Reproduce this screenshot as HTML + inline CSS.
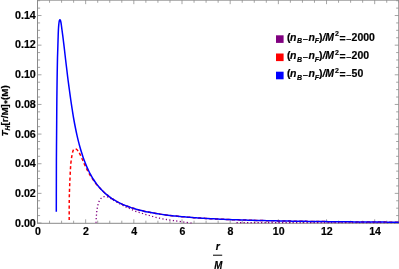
<!DOCTYPE html>
<html><head><meta charset="utf-8"><title>plot</title>
<style>
html,body{margin:0;padding:0;background:#fff;}
body{width:399px;height:269px;overflow:hidden;font-family:"Liberation Sans",sans-serif;}
svg{display:block;will-change:transform;}
text{font-family:"Liberation Sans",sans-serif;font-weight:bold;fill:#000;stroke:#000;stroke-width:0.18px;}
.i{font-style:italic;}
</style></head><body>
<svg width="399" height="269" viewBox="0 0 399 269">
<rect width="399" height="269" fill="#fff"/>
<path d="M37.50 223.30v-4.00M37.50 0.15v4.00M49.54 223.30v-2.60M49.54 0.15v2.60M61.59 223.30v-2.60M61.59 0.15v2.60M73.63 223.30v-2.60M73.63 0.15v2.60M85.67 223.30v-4.00M85.67 0.15v4.00M97.71 223.30v-2.60M97.71 0.15v2.60M109.75 223.30v-2.60M109.75 0.15v2.60M121.80 223.30v-2.60M121.80 0.15v2.60M133.84 223.30v-4.00M133.84 0.15v4.00M145.88 223.30v-2.60M145.88 0.15v2.60M157.93 223.30v-2.60M157.93 0.15v2.60M169.97 223.30v-2.60M169.97 0.15v2.60M182.01 223.30v-4.00M182.01 0.15v4.00M194.05 223.30v-2.60M194.05 0.15v2.60M206.09 223.30v-2.60M206.09 0.15v2.60M218.14 223.30v-2.60M218.14 0.15v2.60M230.18 223.30v-4.00M230.18 0.15v4.00M242.22 223.30v-2.60M242.22 0.15v2.60M254.27 223.30v-2.60M254.27 0.15v2.60M266.31 223.30v-2.60M266.31 0.15v2.60M278.35 223.30v-4.00M278.35 0.15v4.00M290.39 223.30v-2.60M290.39 0.15v2.60M302.44 223.30v-2.60M302.44 0.15v2.60M314.48 223.30v-2.60M314.48 0.15v2.60M326.52 223.30v-4.00M326.52 0.15v4.00M338.56 223.30v-2.60M338.56 0.15v2.60M350.61 223.30v-2.60M350.61 0.15v2.60M362.65 223.30v-2.60M362.65 0.15v2.60M374.69 223.30v-4.00M374.69 0.15v4.00M386.73 223.30v-2.60M386.73 0.15v2.60M398.78 223.30v-2.60M398.78 0.15v2.60M37.50 223.00h4.00M398.75 223.00h-4.00M37.50 215.59h2.60M398.75 215.59h-2.60M37.50 208.18h2.60M398.75 208.18h-2.60M37.50 200.77h2.60M398.75 200.77h-2.60M37.50 193.36h4.00M398.75 193.36h-4.00M37.50 185.95h2.60M398.75 185.95h-2.60M37.50 178.54h2.60M398.75 178.54h-2.60M37.50 171.13h2.60M398.75 171.13h-2.60M37.50 163.72h4.00M398.75 163.72h-4.00M37.50 156.31h2.60M398.75 156.31h-2.60M37.50 148.90h2.60M398.75 148.90h-2.60M37.50 141.49h2.60M398.75 141.49h-2.60M37.50 134.08h4.00M398.75 134.08h-4.00M37.50 126.67h2.60M398.75 126.67h-2.60M37.50 119.26h2.60M398.75 119.26h-2.60M37.50 111.85h2.60M398.75 111.85h-2.60M37.50 104.44h4.00M398.75 104.44h-4.00M37.50 97.03h2.60M398.75 97.03h-2.60M37.50 89.62h2.60M398.75 89.62h-2.60M37.50 82.21h2.60M398.75 82.21h-2.60M37.50 74.80h4.00M398.75 74.80h-4.00M37.50 67.39h2.60M398.75 67.39h-2.60M37.50 59.98h2.60M398.75 59.98h-2.60M37.50 52.57h2.60M398.75 52.57h-2.60M37.50 45.16h4.00M398.75 45.16h-4.00M37.50 37.75h2.60M398.75 37.75h-2.60M37.50 30.34h2.60M398.75 30.34h-2.60M37.50 22.93h2.60M398.75 22.93h-2.60M37.50 15.52h4.00M398.75 15.52h-4.00M37.50 8.11h2.60M398.75 8.11h-2.60M37.50 0.70h2.60M398.75 0.70h-2.60" stroke="#939393" stroke-width="0.85" fill="none"/>
<rect x="37.5" y="0.15" width="361.25" height="223.15" fill="none" stroke="#8a8a8a" stroke-width="1"/>
<path d="M96.00 222.80 C96.03 222.12 96.12 219.96 96.20 218.70 C96.28 217.44 96.36 216.43 96.45 215.25 C96.54 214.07 96.62 212.78 96.75 211.60 C96.88 210.42 97.04 209.37 97.25 208.20 C97.46 207.03 97.69 205.73 98.00 204.60 C98.31 203.47 98.60 202.43 99.10 201.40 C99.60 200.37 100.18 199.18 101.00 198.40 C101.82 197.62 102.90 196.95 104.00 196.70 C105.10 196.45 106.43 196.57 107.60 196.90 C108.77 197.23 109.77 198.02 111.00 198.70 C112.23 199.38 113.67 200.22 115.00 201.00 C116.33 201.78 117.68 202.65 119.00 203.40 C120.32 204.15 121.68 204.87 122.90 205.50 C124.12 206.13 125.22 206.70 126.30 207.20 C127.38 207.70 128.38 208.05 129.40 208.50 C130.43 208.95 131.40 209.43 132.45 209.90 C133.50 210.37 134.59 210.88 135.70 211.30 C136.81 211.72 137.95 212.03 139.10 212.40 C140.25 212.77 141.47 213.13 142.60 213.50 C143.73 213.87 144.77 214.27 145.90 214.60 C147.03 214.93 148.28 215.18 149.40 215.50 C150.52 215.82 151.50 216.18 152.60 216.50 C153.70 216.82 154.85 217.12 156.00 217.40 C157.15 217.68 158.35 217.89 159.50 218.15 C160.65 218.41 161.77 218.72 162.90 218.95 C164.03 219.17 165.20 219.32 166.30 219.50 C167.40 219.68 168.28 219.82 169.50 220.00 C170.72 220.18 172.35 220.42 173.60 220.60 C174.85 220.78 175.27 220.85 177.00 221.10 C178.73 221.35 181.60 221.78 184.00 222.10 C186.40 222.42 190.17 222.85 191.40 223.00" fill="none" stroke="#800080" stroke-width="1.3" stroke-dasharray="1.2 2.325"/>
<path d="M236.50 222.60 L398.50 222.60" fill="none" stroke="#800080" stroke-width="1.2" stroke-dasharray="1.3 2.2"/>
<path d="M69.20 220.00 C69.21 216.67 69.17 205.83 69.25 200.00 C69.33 194.17 69.51 190.00 69.70 185.00 C69.89 180.00 70.18 173.83 70.40 170.00 C70.62 166.17 70.77 164.27 71.00 162.00 C71.23 159.73 71.46 158.27 71.80 156.40 C72.14 154.53 72.65 152.00 73.05 150.80 C73.45 149.60 73.83 149.53 74.20 149.20 C74.58 148.87 74.87 148.75 75.30 148.80 C75.73 148.85 76.30 149.08 76.80 149.50 C77.30 149.92 77.80 150.58 78.30 151.30 C78.80 152.02 79.16 152.52 79.80 153.80 C80.44 155.08 81.40 157.30 82.15 159.00 C82.90 160.70 83.51 162.28 84.30 164.00 C85.09 165.72 86.03 167.60 86.90 169.30 C87.77 171.00 88.48 172.48 89.50 174.20 C90.52 175.92 91.75 177.82 93.00 179.60 C94.25 181.38 95.67 183.29 97.00 184.90 C98.33 186.51 100.08 188.26 101.00 189.24 C101.92 190.23 102.00 190.30 102.50 190.80 C103.00 191.31 103.50 191.79 104.00 192.26 C104.50 192.73 105.00 193.18 105.50 193.62 C106.00 194.06 106.50 194.49 107.00 194.90 C107.50 195.31 108.00 195.71 108.50 196.10 C109.00 196.48 109.50 196.86 110.00 197.22 C110.50 197.58 111.00 197.93 111.50 198.26 C112.00 198.60 112.50 198.93 113.00 199.25 C113.50 199.57 114.00 199.87 114.50 200.17 C115.00 200.47 115.50 200.76 116.00 201.05 C116.50 201.33 117.00 201.60 117.50 201.87 C118.00 202.14 118.50 202.40 119.00 202.65 C119.50 202.90 120.00 203.15 120.50 203.39 C121.00 203.63 121.50 203.86 122.00 204.09 C122.50 204.31 123.00 204.54 123.50 204.75 C124.00 204.97 124.50 205.17 125.00 205.38 C125.50 205.58 126.00 205.78 126.50 205.98 C127.00 206.17 127.50 206.36 128.00 206.54 C128.50 206.73 129.00 206.91 129.50 207.08 C130.00 207.26 130.50 207.43 131.00 207.60 C131.50 207.77 132.00 207.93 132.50 208.09 C133.00 208.25 133.50 208.40 134.00 208.56 C134.50 208.71 135.00 208.86 135.50 209.00 C136.00 209.15 136.50 209.29 137.00 209.43 C137.50 209.57 138.00 209.70 138.50 209.84 C139.00 209.97 139.08 210.00 140.00 210.23 C140.92 210.45 142.67 210.88 144.00 211.19 C145.33 211.49 146.67 211.77 148.00 212.04 C149.33 212.32 150.67 212.57 152.00 212.81 C153.33 213.06 154.67 213.29 156.00 213.51 C157.33 213.73 158.67 213.93 160.00 214.13 C161.33 214.33 162.67 214.52 164.00 214.70 C165.33 214.88 166.67 215.05 168.00 215.22 C169.33 215.38 170.67 215.54 172.00 215.69 C173.33 215.84 174.67 215.98 176.00 216.12 C177.33 216.25 178.67 216.39 180.00 216.51 C181.33 216.64 182.67 216.76 184.00 216.87 C185.33 216.99 186.67 217.10 188.00 217.21 C189.33 217.32 190.67 217.42 192.00 217.52 C193.33 217.62 194.67 217.71 196.00 217.80 C197.33 217.90 198.67 217.98 200.00 218.07 C201.33 218.15 202.67 218.24 204.00 218.31 C205.33 218.39 206.67 218.47 208.00 218.54 C209.33 218.62 210.67 218.69 212.00 218.76 C213.33 218.83 214.67 218.89 216.00 218.96 C217.33 219.02 218.67 219.08 220.00 219.14 C221.33 219.20 222.67 219.26 224.00 219.32 C225.33 219.37 226.67 219.43 228.00 219.48 C229.33 219.53 230.67 219.58 232.00 219.63 C233.33 219.68 234.67 219.73 236.00 219.78 C237.33 219.82 238.67 219.87 240.00 219.91 C241.33 219.96 242.67 220.00 244.00 220.04 C245.33 220.08 246.67 220.12 248.00 220.16 C249.33 220.20 250.67 220.24 252.00 220.28 C253.33 220.31 254.67 220.35 256.00 220.38 C257.33 220.42 258.67 220.45 260.00 220.49 C261.33 220.52 262.67 220.55 264.00 220.58 C265.33 220.61 266.67 220.64 268.00 220.67 C269.33 220.70 270.67 220.73 272.00 220.76 C273.33 220.79 274.67 220.82 276.00 220.84 C277.33 220.87 278.67 220.90 280.00 220.92 C281.33 220.95 282.67 220.97 284.00 221.00 C285.33 221.02 286.67 221.05 288.00 221.07 C289.33 221.09 290.67 221.12 292.00 221.14 C293.33 221.16 294.67 221.18 296.00 221.20 C297.33 221.22 298.67 221.24 300.00 221.26 C301.33 221.28 302.67 221.30 304.00 221.32 C305.33 221.34 306.67 221.36 308.00 221.38 C309.33 221.40 310.67 221.42 312.00 221.43 C313.33 221.45 314.67 221.47 316.00 221.49 C317.33 221.50 318.67 221.52 320.00 221.54 C321.33 221.55 322.67 221.57 324.00 221.58 C325.33 221.60 326.67 221.61 328.00 221.63 C329.33 221.64 330.67 221.66 332.00 221.67 C333.33 221.69 334.67 221.70 336.00 221.71 C337.33 221.73 338.67 221.74 340.00 221.75 C341.33 221.77 342.67 221.78 344.00 221.79 C345.33 221.81 346.67 221.82 348.00 221.83 C349.33 221.84 350.67 221.85 352.00 221.87 C353.33 221.88 354.67 221.89 356.00 221.90 C357.33 221.91 358.67 221.92 360.00 221.93 C361.33 221.95 362.67 221.96 364.00 221.97 C365.33 221.98 366.67 221.99 368.00 222.00 C369.33 222.01 370.67 222.02 372.00 222.03 C373.33 222.04 374.67 222.05 376.00 222.06 C377.33 222.07 378.67 222.07 380.00 222.08 C381.33 222.09 382.67 222.10 384.00 222.11 C385.33 222.12 386.67 222.13 388.00 222.14 C389.33 222.14 390.67 222.15 392.00 222.16 C393.33 222.17 394.87 222.18 396.00 222.19 C397.13 222.19 398.33 222.20 398.80 222.20" fill="none" stroke="#ff0000" stroke-width="1.5" stroke-dasharray="3.2 2.42"/>
<path d="M56.30 211.80 C56.31 207.33 56.33 193.63 56.35 185.00 C56.37 176.37 56.37 167.50 56.40 160.00 C56.43 152.50 56.50 146.67 56.55 140.00 C56.60 133.33 56.65 126.67 56.70 120.00 C56.75 113.33 56.78 106.67 56.85 100.00 C56.92 93.33 57.00 86.67 57.10 80.00 C57.20 73.33 57.34 65.00 57.45 60.00 C57.56 55.00 57.65 53.33 57.75 50.00 C57.85 46.67 57.94 43.33 58.05 40.00 C58.16 36.67 58.28 32.50 58.40 30.00 C58.52 27.50 58.63 26.33 58.75 25.00 C58.87 23.67 58.98 22.78 59.10 22.00 C59.23 21.22 59.36 20.68 59.50 20.30 C59.64 19.92 59.78 19.70 59.93 19.70 C60.08 19.70 60.25 19.92 60.40 20.30 C60.55 20.68 60.69 21.22 60.85 22.00 C61.01 22.78 61.16 23.67 61.35 25.00 C61.54 26.33 61.67 27.50 62.00 30.00 C62.33 32.50 62.88 36.67 63.30 40.00 C63.72 43.33 64.11 46.67 64.50 50.00 C64.89 53.33 65.25 56.67 65.64 60.00 C66.03 63.33 66.45 66.67 66.85 70.00 C67.25 73.33 67.62 76.67 68.05 80.00 C68.47 83.33 68.95 86.67 69.40 90.00 C69.86 93.33 70.30 96.67 70.78 100.00 C71.26 103.33 71.77 106.67 72.30 110.00 C72.83 113.33 73.40 116.96 73.93 120.00 C74.46 123.04 74.99 125.70 75.50 128.25 C76.01 130.80 76.50 133.08 77.00 135.31 C77.50 137.53 78.00 139.62 78.50 141.61 C79.00 143.60 79.50 145.46 80.00 147.25 C80.50 149.04 81.00 150.72 81.50 152.34 C82.00 153.95 82.50 155.47 83.00 156.93 C83.50 158.39 84.00 159.77 84.50 161.10 C85.00 162.42 85.50 163.68 86.00 164.88 C86.50 166.09 87.00 167.23 87.50 168.33 C88.00 169.43 88.50 170.48 89.00 171.49 C89.50 172.49 90.00 173.45 90.50 174.38 C91.00 175.30 91.50 176.18 92.00 177.04 C92.50 177.89 93.00 178.70 93.50 179.48 C94.00 180.27 94.50 181.02 95.00 181.74 C95.50 182.47 96.00 183.16 96.50 183.83 C97.00 184.50 97.50 185.15 98.00 185.77 C98.50 186.39 99.00 186.99 99.50 187.57 C100.00 188.15 100.50 188.70 101.00 189.24 C101.50 189.78 102.00 190.30 102.50 190.80 C103.00 191.31 103.50 191.79 104.00 192.26 C104.50 192.73 105.00 193.18 105.50 193.62 C106.00 194.06 106.50 194.49 107.00 194.90 C107.50 195.31 108.00 195.71 108.50 196.10 C109.00 196.48 109.50 196.86 110.00 197.22 C110.50 197.58 111.00 197.93 111.50 198.26 C112.00 198.60 112.50 198.93 113.00 199.25 C113.50 199.57 114.00 199.87 114.50 200.17 C115.00 200.47 115.50 200.76 116.00 201.05 C116.50 201.33 117.00 201.60 117.50 201.87 C118.00 202.14 118.50 202.40 119.00 202.65 C119.50 202.90 120.00 203.15 120.50 203.39 C121.00 203.63 121.50 203.86 122.00 204.09 C122.50 204.31 123.00 204.54 123.50 204.75 C124.00 204.97 124.50 205.17 125.00 205.38 C125.50 205.58 126.00 205.78 126.50 205.98 C127.00 206.17 127.50 206.36 128.00 206.54 C128.50 206.73 129.00 206.91 129.50 207.08 C130.00 207.26 130.50 207.43 131.00 207.60 C131.50 207.77 132.00 207.93 132.50 208.09 C133.00 208.25 133.50 208.40 134.00 208.56 C134.50 208.71 135.00 208.86 135.50 209.00 C136.00 209.15 136.50 209.29 137.00 209.43 C137.50 209.57 138.00 209.70 138.50 209.84 C139.00 209.97 139.08 210.00 140.00 210.23 C140.92 210.45 142.67 210.88 144.00 211.19 C145.33 211.49 146.67 211.77 148.00 212.04 C149.33 212.32 150.67 212.57 152.00 212.81 C153.33 213.06 154.67 213.29 156.00 213.51 C157.33 213.73 158.67 213.93 160.00 214.13 C161.33 214.33 162.67 214.52 164.00 214.70 C165.33 214.88 166.67 215.05 168.00 215.22 C169.33 215.38 170.67 215.54 172.00 215.69 C173.33 215.84 174.67 215.98 176.00 216.12 C177.33 216.25 178.67 216.39 180.00 216.51 C181.33 216.64 182.67 216.76 184.00 216.87 C185.33 216.99 186.67 217.10 188.00 217.21 C189.33 217.32 190.67 217.42 192.00 217.52 C193.33 217.62 194.67 217.71 196.00 217.80 C197.33 217.90 198.67 217.98 200.00 218.07 C201.33 218.15 202.67 218.24 204.00 218.31 C205.33 218.39 206.67 218.47 208.00 218.54 C209.33 218.62 210.67 218.69 212.00 218.76 C213.33 218.83 214.67 218.89 216.00 218.96 C217.33 219.02 218.67 219.08 220.00 219.14 C221.33 219.20 222.67 219.26 224.00 219.32 C225.33 219.37 226.67 219.43 228.00 219.48 C229.33 219.53 230.67 219.58 232.00 219.63 C233.33 219.68 234.67 219.73 236.00 219.78 C237.33 219.82 238.67 219.87 240.00 219.91 C241.33 219.96 242.67 220.00 244.00 220.04 C245.33 220.08 246.67 220.12 248.00 220.16 C249.33 220.20 250.67 220.24 252.00 220.28 C253.33 220.31 254.67 220.35 256.00 220.38 C257.33 220.42 258.67 220.45 260.00 220.49 C261.33 220.52 262.67 220.55 264.00 220.58 C265.33 220.61 266.67 220.64 268.00 220.67 C269.33 220.70 270.67 220.73 272.00 220.76 C273.33 220.79 274.67 220.82 276.00 220.84 C277.33 220.87 278.67 220.90 280.00 220.92 C281.33 220.95 282.67 220.97 284.00 221.00 C285.33 221.02 286.67 221.05 288.00 221.07 C289.33 221.09 290.67 221.12 292.00 221.14 C293.33 221.16 294.67 221.18 296.00 221.20 C297.33 221.22 298.67 221.24 300.00 221.26 C301.33 221.28 302.67 221.30 304.00 221.32 C305.33 221.34 306.67 221.36 308.00 221.38 C309.33 221.40 310.67 221.42 312.00 221.43 C313.33 221.45 314.67 221.47 316.00 221.49 C317.33 221.50 318.67 221.52 320.00 221.54 C321.33 221.55 322.67 221.57 324.00 221.58 C325.33 221.60 326.67 221.61 328.00 221.63 C329.33 221.64 330.67 221.66 332.00 221.67 C333.33 221.69 334.67 221.70 336.00 221.71 C337.33 221.73 338.67 221.74 340.00 221.75 C341.33 221.77 342.67 221.78 344.00 221.79 C345.33 221.81 346.67 221.82 348.00 221.83 C349.33 221.84 350.67 221.85 352.00 221.87 C353.33 221.88 354.67 221.89 356.00 221.90 C357.33 221.91 358.67 221.92 360.00 221.93 C361.33 221.95 362.67 221.96 364.00 221.97 C365.33 221.98 366.67 221.99 368.00 222.00 C369.33 222.01 370.67 222.02 372.00 222.03 C373.33 222.04 374.67 222.05 376.00 222.06 C377.33 222.07 378.67 222.07 380.00 222.08 C381.33 222.09 382.67 222.10 384.00 222.11 C385.33 222.12 386.67 222.13 388.00 222.14 C389.33 222.14 390.67 222.15 392.00 222.16 C393.33 222.17 394.87 222.18 396.00 222.19 C397.13 222.19 398.33 222.20 398.80 222.20" fill="none" stroke="#0000ff" stroke-width="1.5" stroke-linejoin="round"/>
<g><text transform="translate(35.85 226.71) scale(1.075 1)" text-anchor="end" style="font-size:10.00px;">0.00</text><text transform="translate(35.85 197.00) scale(1.075 1)" text-anchor="end" style="font-size:10.00px;">0.02</text><text transform="translate(35.85 167.29) scale(1.075 1)" text-anchor="end" style="font-size:10.00px;">0.04</text><text transform="translate(35.85 137.59) scale(1.075 1)" text-anchor="end" style="font-size:10.00px;">0.06</text><text transform="translate(35.85 107.88) scale(1.075 1)" text-anchor="end" style="font-size:10.00px;">0.08</text><text transform="translate(35.85 78.17) scale(1.075 1)" text-anchor="end" style="font-size:10.00px;">0.10</text><text transform="translate(35.85 48.46) scale(1.075 1)" text-anchor="end" style="font-size:10.00px;">0.12</text><text transform="translate(35.85 18.75) scale(1.075 1)" text-anchor="end" style="font-size:10.00px;">0.14</text></g>
<g><text transform="translate(37.85 234.65) scale(1.060 1)" text-anchor="middle" style="font-size:10.00px;">0</text><text transform="translate(86.02 234.65) scale(1.060 1)" text-anchor="middle" style="font-size:10.00px;">2</text><text transform="translate(134.19 234.65) scale(1.060 1)" text-anchor="middle" style="font-size:10.00px;">4</text><text transform="translate(182.36 234.65) scale(1.060 1)" text-anchor="middle" style="font-size:10.00px;">6</text><text transform="translate(230.53 234.65) scale(1.060 1)" text-anchor="middle" style="font-size:10.00px;">8</text><text transform="translate(278.70 234.65) scale(1.060 1)" text-anchor="middle" style="font-size:10.00px;">10</text><text transform="translate(326.87 234.65) scale(1.060 1)" text-anchor="middle" style="font-size:10.00px;">12</text><text transform="translate(375.04 234.65) scale(1.060 1)" text-anchor="middle" style="font-size:10.00px;">14</text></g>
<text transform="translate(8.45 110.90) scale(1.000 1) rotate(-90) scale(1.03 1)" text-anchor="middle" style="font-size:9.60px;"><tspan class="i">T</tspan><tspan class="i" style="font-size:6.7px" dy="1.6">H</tspan><tspan dy="-1.6">[r/M]</tspan><tspan dy="2.0" dx="0.3" style="font-size:8.5px">*</tspan><tspan dy="-2.0" dx="0.3">(M)</tspan></text>
<text transform="translate(217.90 249.50) scale(1.050 1)" text-anchor="middle" style="font-size:10.00px;font-style:italic;">r</text>
<rect x="213" y="254.7" width="9.2" height="1" fill="#000"/>
<text transform="translate(218.20 268.80) scale(0.970 1)" text-anchor="middle" style="font-size:10.00px;font-style:italic;">M</text>
<rect x="276" y="35.3" width="7.6" height="7.6" fill="#800080"/>
<rect x="276" y="53.5" width="7.6" height="7.6" fill="#ff0000"/>
<rect x="276" y="71.7" width="7.6" height="7.6" fill="#0000ff"/>
<text transform="translate(287.00 41.10) scale(1.050 1)" text-anchor="start" style="font-size:10.00px;"><tspan>(</tspan><tspan class="i" dx="-0.5">n</tspan><tspan class="i" style="font-size:6.7px" dy="2.3" dx="0.63">B</tspan><tspan style="font-size:8px;stroke:#000;stroke-width:0.45px" dx="0.9" dy="-2.3">–</tspan><tspan class="i" dx="0.7">n</tspan><tspan class="i" style="font-size:6.7px" dy="2.3" dx="-0.23">F</tspan><tspan dy="-2.3" dx="0.07">)</tspan><tspan class="i">/</tspan><tspan class="i" dx="-0.17">M</tspan><tspan style="font-size:6.7px" dy="-4.7" dx="0.8">2</tspan><tspan dy="5.6" dx="0.72">=</tspan><tspan style="font-size:8px;stroke:#000;stroke-width:0.45px" dx="0.75" dy="-0.9">–</tspan><tspan dx="0.37">2000</tspan></text>
<text transform="translate(287.00 59.25) scale(1.050 1)" text-anchor="start" style="font-size:10.00px;"><tspan>(</tspan><tspan class="i" dx="-0.5">n</tspan><tspan class="i" style="font-size:6.7px" dy="2.3" dx="0.63">B</tspan><tspan style="font-size:8px;stroke:#000;stroke-width:0.45px" dx="0.9" dy="-2.3">–</tspan><tspan class="i" dx="0.7">n</tspan><tspan class="i" style="font-size:6.7px" dy="2.3" dx="-0.23">F</tspan><tspan dy="-2.3" dx="0.07">)</tspan><tspan class="i">/</tspan><tspan class="i" dx="-0.17">M</tspan><tspan style="font-size:6.7px" dy="-4.7" dx="0.8">2</tspan><tspan dy="5.6" dx="0.72">=</tspan><tspan style="font-size:8px;stroke:#000;stroke-width:0.45px" dx="0.75" dy="-0.9">–</tspan><tspan dx="0.37">200</tspan></text>
<text transform="translate(287.00 77.40) scale(1.050 1)" text-anchor="start" style="font-size:10.00px;"><tspan>(</tspan><tspan class="i" dx="-0.5">n</tspan><tspan class="i" style="font-size:6.7px" dy="2.3" dx="0.63">B</tspan><tspan style="font-size:8px;stroke:#000;stroke-width:0.45px" dx="0.9" dy="-2.3">–</tspan><tspan class="i" dx="0.7">n</tspan><tspan class="i" style="font-size:6.7px" dy="2.3" dx="-0.23">F</tspan><tspan dy="-2.3" dx="0.07">)</tspan><tspan class="i">/</tspan><tspan class="i" dx="-0.17">M</tspan><tspan style="font-size:6.7px" dy="-4.7" dx="0.8">2</tspan><tspan dy="5.6" dx="0.72">=</tspan><tspan style="font-size:8px;stroke:#000;stroke-width:0.45px" dx="0.75" dy="-0.9">–</tspan><tspan dx="0.37">50</tspan></text>
</svg>
</body></html>
